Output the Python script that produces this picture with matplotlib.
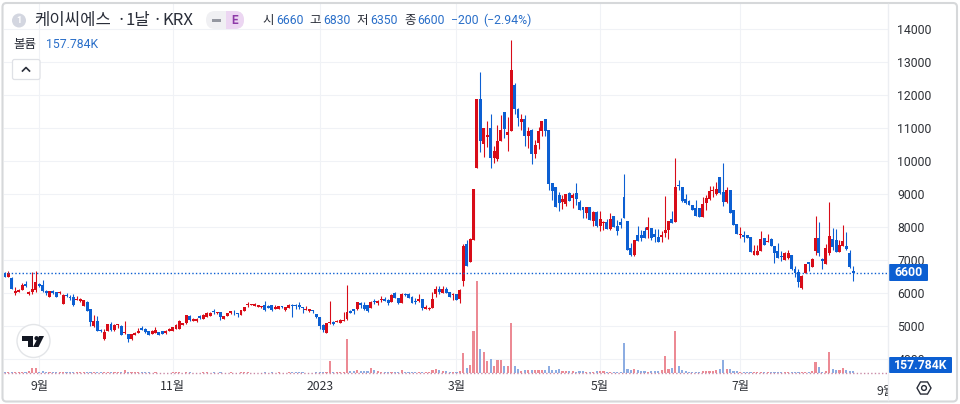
import matplotlib
matplotlib.use("Agg")
import matplotlib.pyplot as plt
import numpy as np
from matplotlib.patches import Rectangle, FancyBboxPatch, Circle, RegularPolygon, Polygon
from matplotlib.transforms import Bbox, TransformedBbox, IdentityTransform

opens = [
6620,6500,6460,6000,6030,6100,6270,5960,6020,6100,
6270,6240,6060,5880,6060,6020,5990,5680,5950,5880,
5880,5800,5760,5620,5730,5520,5000,5150,4880,4610,
4850,5060,4870,5020,4990,4780,4760,4600,4730,4790,
4930,4900,4840,4760,4800,4820,4840,4780,4860,4860,
4920,4920,5040,5080,5300,5160,5140,5300,5220,5280,
5300,5440,5380,5410,5220,5300,5380,5430,5385,5345,
5465,5630,5640,5620,5590,5570,5640,5610,5625,5525,
5525,5605,5485,5545,5645,5640,5645,5565,5500,5465,
5465,5365,5265,5040,4800,5085,5125,5125,5105,5165,
5205,5465,5510,5510,5710,5630,5630,5550,5770,5710,
5790,5820,5790,5740,6010,5850,5710,5970,5970,5890,
5770,5770,5810,5530,5510,5560,5960,6120,6010,6110,
6030,5930,5970,5810,6350,7500,6950,7620,9800,11880,
10520,10730,11000,10090,10060,10610,11480,10790,10910,12300,
11570,11180,11270,10760,10940,10210,10550,10910,11270,10940,
9330,9210,8970,8760,8700,9030,8880,9030,8760,8610,
8430,8610,8180,8460,8030,8110,8160,7950,8330,8030,
8150,8920,8180,7360,7150,7750,7770,7880,7920,7970,
7790,7700,7700,7820,7910,8240,8160,9250,9210,8850,
8800,8670,8565,8565,8310,8720,8840,9080,8990,9505,
9070,8770,9120,8515,8090,7760,7755,7755,7707,7150,
7150,7270,7677,7555,7650,7425,7270,7120,7000,7050,
7150,6720,6650,6140,6616,6930,6800,7270,7656,7030,
6880,7200,7650,7600,7240,7425,7425,7220,6660]
highs = [
6650,6660,6470,6180,6120,6300,6350,6060,6650,6680,
6300,6380,6100,6070,6090,6040,6050,5960,6010,5930,
5970,5900,5840,5800,5750,5530,5340,5290,4900,4900,
5060,5130,5050,5070,5020,5150,4770,4770,4810,4930,
5000,4930,4850,4880,4970,4830,4850,4870,4930,4970,
5060,5190,5090,5340,5320,5230,5230,5330,5360,5410,
5420,5510,5420,5420,5310,5400,5450,5470,5400,5490,
5570,5740,5680,5700,5640,5620,5760,5650,5640,5640,
5610,5620,5590,5660,5660,5660,5730,5570,5600,5520,
5480,5370,5270,5050,5090,5750,5140,5170,5210,5410,
6245,5480,5520,5740,5730,5730,5640,5750,5810,5800,
5900,5880,5820,5960,6020,5860,5990,6010,6010,5900,
5860,5960,5820,5640,5570,6020,6200,6220,6200,6180,
6040,6000,5980,6110,7500,7600,7660,9160,11880,12700,
11000,11220,11420,10450,11090,11390,11490,11330,13670,12370,
11600,11420,11390,11040,10960,10640,11040,11220,11280,10950,
9340,9220,9060,8970,9010,9060,9030,9330,8820,8620,
8620,8620,8470,8470,8470,8170,8230,8410,8340,8210,
8280,9610,8190,7510,7620,8030,7900,8010,8300,7980,
7950,7930,7880,8940,8190,8480,10080,9420,9220,9000,
8820,8680,8820,8580,8920,8970,9240,9240,9350,9510,
9930,9200,9130,8520,8100,7990,7880,7770,7710,7450,
7450,7870,7680,7790,7680,7430,7530,7260,7250,7290,
7160,6820,6720,6550,6880,6950,7070,8333,8140,7070,
7500,8757,7960,7930,7600,8060,7860,7300,6830]
lows = [
6470,6480,6110,5950,6020,6090,6180,5950,5980,6040,
6170,6020,5950,5870,5960,5870,5980,5660,5890,5800,
5620,5780,5740,5600,5440,5010,4970,4840,4830,4590,
4840,4860,4860,4950,4720,4760,4530,4590,4720,4780,
4880,4800,4720,4750,4790,4720,4750,4770,4850,4850,
4910,4900,5030,5070,5150,5150,5110,5210,5210,5270,
5290,5370,5370,5180,5210,5290,5370,5330,5280,5340,
5460,5590,5630,5610,5580,5560,5450,5540,5450,5520,
5520,5550,5450,5540,5260,5530,5530,5400,5470,5420,
5390,5240,4900,4830,4790,5070,5040,5120,5100,5140,
5190,5380,5370,5470,5540,5490,5430,5540,5660,5640,
5740,5750,5640,5730,5840,5680,5700,5900,5850,5700,
5660,5740,5500,5520,5490,5550,5890,5960,6000,6000,
5880,5790,5780,5690,6220,6820,6940,7600,9790,10280,
10130,10430,9800,9950,10010,10600,10700,10310,10900,11420,
11060,10940,10450,10390,9910,10090,10360,10760,10760,9120,
8820,8600,8490,8550,8630,8780,8580,8670,8510,8270,
8270,8200,8030,8000,7880,7910,7940,7900,8000,7760,
7960,8270,7300,7120,7120,7580,7570,7660,7670,7610,
7560,7540,7560,7700,7640,8120,8150,9120,8760,8700,
8660,8510,8320,8300,8300,8530,8830,8920,8980,9010,
8630,8720,8410,8060,7780,7680,7560,7660,7240,7140,
7140,7260,7450,7550,7420,6920,7050,6980,6990,7040,
6710,6490,6190,6130,6610,6670,6790,7150,7110,6740,
6870,7150,7300,7250,7230,7420,7300,6770,6350]
closes = [
6480,6620,6120,6050,6080,6230,6200,6030,6130,6320,
6200,6070,6000,6060,5990,5880,6040,5950,5900,5860,
5640,5830,5810,5790,5450,5110,5150,4850,4840,4830,
5050,4870,5040,5050,4730,4790,4610,4760,4790,4850,
4890,4810,4730,4860,4880,4730,4760,4850,4920,4960,
5040,5140,5080,5320,5180,5210,5220,5240,5340,5400,
5400,5410,5410,5260,5300,5380,5440,5410,5365,5485,
5565,5670,5670,5665,5630,5610,5490,5545,5490,5565,
5605,5585,5585,5645,5600,5620,5565,5535,5530,5505,
5445,5265,5000,4880,5085,5125,5055,5155,5185,5185,
5425,5405,5465,5730,5650,5510,5440,5730,5730,5770,
5830,5770,5710,5940,5850,5690,5970,5950,5860,5710,
5730,5820,5540,5590,5560,5810,6130,6030,6130,6010,
5890,5970,5790,6090,7420,6830,7650,9150,11880,10600,
11000,10780,10090,10300,10610,10940,10960,10880,12760,11570,
11300,11270,10760,10910,10210,10480,10910,11210,10910,9300,
9090,8610,8730,8850,9000,8790,8970,8850,8520,8520,
8610,8210,8460,8030,8230,8160,7950,8230,8010,7880,
8060,8280,7300,7150,7610,7580,7680,7670,8010,7670,
7700,7550,7760,7910,8180,8130,9210,9230,8790,8720,
8670,8515,8330,8310,8700,8870,9100,9100,9140,9020,
8770,9120,8415,8060,7790,7780,7690,7660,7250,7270,
7270,7636,7455,7575,7425,7200,7060,7100,7210,7220,
6720,6600,6340,6515,6880,6880,7040,7677,7220,6980,
7350,7730,7400,7250,7450,7575,7323,6780,6600]
volumes_k = [
100,120,150,90,110,100,90,200,470,500,
120,200,100,80,70,90,70,100,80,70,
90,60,60,70,80,120,130,110,120,130,
100,90,80,70,90,300,150,100,60,60,
70,60,60,50,60,50,50,40,40,60,
70,90,50,120,70,50,50,50,60,70,
50,60,40,80,50,50,60,50,40,60,
80,60,50,50,40,40,80,50,60,50,
60,40,50,70,120,60,70,60,40,40,
40,70,150,100,110,1200,120,60,80,120,
3400,200,180,300,200,170,180,500,300,200,
150,150,130,110,90,100,300,100,90,100,
100,90,150,140,120,350,420,280,200,180,
120,150,110,180,2000,500,800,4200,9200,2400,
2100,1200,1400,700,1300,1300,700,700,5000,700,
400,200,300,350,300,350,300,350,350,700,
350,350,380,200,220,200,200,150,180,200,
150,150,130,250,180,170,150,120,120,120,
150,3000,400,300,400,300,250,170,150,200,
200,250,300,1700,400,500,4200,700,300,200,
150,150,150,150,200,170,250,200,300,400,
1300,400,400,200,250,150,120,120,100,100,
120,100,150,100,120,100,100,120,120,100,
100,100,150,120,120,130,200,1100,600,150,
200,2100,400,300,300,500,300,200,157.784]
price_ticks = [4000,5000,6000,7000,8000,9000,10000,11000,12000,13000,14000]
month_pos = [10,49,92,132,174,215]
month_labels = ['9월','11월','2023','3월','5월','7월']
last_price = 6600

W,H = 960,404
RED,BLUE = '#d80c18','#0c5fd2'
KR = ['Noto Sans CJK KR','DejaVu Sans']
NUM = ['Roboto','Noto Sans CJK KR','DejaVu Sans']
plt.rcParams['font.family'] = NUM

fig = plt.figure(figsize=(9.6,4.04),dpi=100,facecolor='white')
L,R,T,B = 4,888,4,376
ax = fig.add_axes([L/W,1-B/H,(R-L)/W,(B-T)/H])
PX = 3.42
X0 = 5
ax.set_xlim((L-X0)/PX,(R-X0)/PX)
pv = lambda y: 14000-(y-29)/0.033
ax.set_ylim(pv(B),pv(T))
for s in ax.spines.values(): s.set_visible(False)

o,h,l,c = map(np.array,(opens,highs,lows,closes))
idx = np.arange(len(o))
up = c>=o
col = np.where(up,RED,BLUE)

wicks = ax.vlines(idx,l,h,colors=col,lw=0.78,zorder=3)
wicks.set_snap(True)
minh = 28
bot = np.minimum(o,c)
hgt = np.maximum(np.abs(c-o),minh)
ax.bar(idx,hgt,bottom=bot,width=0.86,color=col,lw=0,zorder=3)
ax.axhline(last_price,color='#0c5fd2',lw=1.0,ls=(0,(1,1.6)),zorder=4)

vx = ax.twinx()
vx.set_ylim(-(B-373)*100,(373-T)*100)
vx.set_yticks([])
for s in vx.spines.values(): s.set_visible(False)
vcol = np.where(up,'#ec8a94','#8dade2')
vx.bar(idx,volumes_k,width=0.62,color=vcol,lw=0,zorder=2)
vx.axhline(0,color='#c98aa6',lw=1.0,ls=(0,(1,1.6)),zorder=2)
vx.patch.set_visible(False)

ax.yaxis.tick_right()
ax.set_yticks(price_ticks)
ax.set_yticklabels([str(t) for t in price_ticks],fontsize=8.8,color='#2f3238')
ax.tick_params(axis='y',length=0,pad=6.6,left=False,labelleft=False,right=False,labelright=True)
ax.set_xticks(month_pos)
ax.set_xticklabels(month_labels,fontsize=8.8,color='#2f3238',fontfamily=KR)
ax.tick_params(axis='x',length=0,pad=2.8)
ax.xaxis.get_ticklabels()[2].set_fontweight('medium')
ax.grid(True,color='#f0f2f6',lw=0.8)
ax.set_axisbelow(True)

# clipped month label at the scale edge
t9 = ax.text(257.6,-0.042,'9월',transform=ax.get_xaxis_transform(),ha='center',va='center',
             fontsize=8.8,color='#2f3238',fontfamily=KR)
t9.set_clip_box(TransformedBbox(Bbox([[0,0],[R,H]]),IdentityTransform()))
t9.set_clip_on(True)

# overlay in pixel coordinates
ov = fig.add_axes([0,0,1,1],zorder=10)
ov.set_xlim(0,W); ov.set_ylim(H,0); ov.axis('off'); ov.patch.set_visible(False)
ov.add_patch(FancyBboxPatch((2.5,3),954.5,398.5,boxstyle='round,pad=0,rounding_size=4',fc='none',ec='#d6d8da',lw=1.5))
ov.plot([R,R],[4,400],color='#eceef2',lw=1)

# header
ov.add_patch(Circle((19,20.5),7,fc='#d3d6e0',ec='none'))
ov.text(19,20.5,'1',color='white',fontsize=6.5,ha='center',va='center',fontweight='bold')
for x,s in [(34.5,'케이씨에스'),(116,'·'),(125.5,'1날'),(152.5,'·'),(162.5,'KRX')]:
    ov.text(x,20.5,s,fontsize=12,color='#2a2e39',va='center',fontfamily=KR)
ov.add_patch(FancyBboxPatch((206,11),38,18,boxstyle='round,pad=0,rounding_size=9',fc='#f0f0f3',ec='none'))
ov.add_patch(FancyBboxPatch((226,11),18,18,boxstyle='round,pad=0,rounding_size=9',fc='#ecd6f2',ec='none'))
ov.add_patch(Rectangle((226,11),8,18,fc='#ecd6f2',ec='none'))
ov.add_patch(Rectangle((212,18.7),9,3,fc='#9598a1',ec='none'))
ov.text(234.5,20.5,'E',fontsize=8.5,color='#8e3aa8',ha='center',va='center',fontweight='bold')
BL = '#2a6fc9'
for x,s in [(262,'시'),(309,'고'),(356,'저'),(404,'종')]:
    ov.text(x,20.5,s,fontsize=9,color='#2a2e39',va='center',fontfamily=KR)
for x,s in [(276,'6660'),(323,'6830'),(370,'6350'),(417,'6600'),(451,'−200'),(483,'(−2.94%)')]:
    ov.text(x,20.5,s,fontsize=8.8,color=BL,va='center')
ov.text(13,44.5,'볼륨',fontsize=9,color='#2a2e39',va='center',fontfamily=KR)
ov.text(46,44.5,'157.784K',fontsize=8.8,color=BL,va='center')
ov.add_patch(FancyBboxPatch((12.5,59.5),27.5,20,boxstyle='round,pad=0,rounding_size=2',fc='white',ec='#dfe1e6',lw=0.9))
ov.plot([22.5,26,29.5],[71,67.5,71],color='#2a2e39',lw=1.2)

# logo
ov.add_patch(Circle((33.5,341),16.5,fc='white',ec='#e3e5e8',lw=1))
ov.add_patch(Polygon([(22,336),(33,336),(33,347),(28,347),(28,340.5),(22,340.5)],fc='#131722',ec='none'))
ov.add_patch(Circle((36.5,338.2),2.1,fc='#131722',ec='none'))
ov.add_patch(Polygon([(39,336),(44,336),(38.5,347),(33,347)],fc='#131722',ec='none'))

# price and volume tags
ov.add_patch(FancyBboxPatch((889,264),39,17,boxstyle='round,pad=0,rounding_size=1',fc='#0c5fd2',ec='none'))
ov.text(908.5,272.8,str(last_price),color='white',fontsize=8.8,ha='center',va='center',fontweight='bold')
ov.add_patch(FancyBboxPatch((889,357),63,16,boxstyle='round,pad=0,rounding_size=1',fc='#0c5fd2',ec='none'))
ov.text(920.5,365.3,'157.784K',color='white',fontsize=8.8,ha='center',va='center',fontweight='bold')

# settings icon
ov.add_patch(RegularPolygon((924,388),6,radius=7,orientation=np.pi/6,fc='white',ec='#2a2e39',lw=1))
ov.add_patch(Circle((924,388),2.4,fc='white',ec='#2a2e39',lw=1))

fig.savefig('out.png',dpi=100)
